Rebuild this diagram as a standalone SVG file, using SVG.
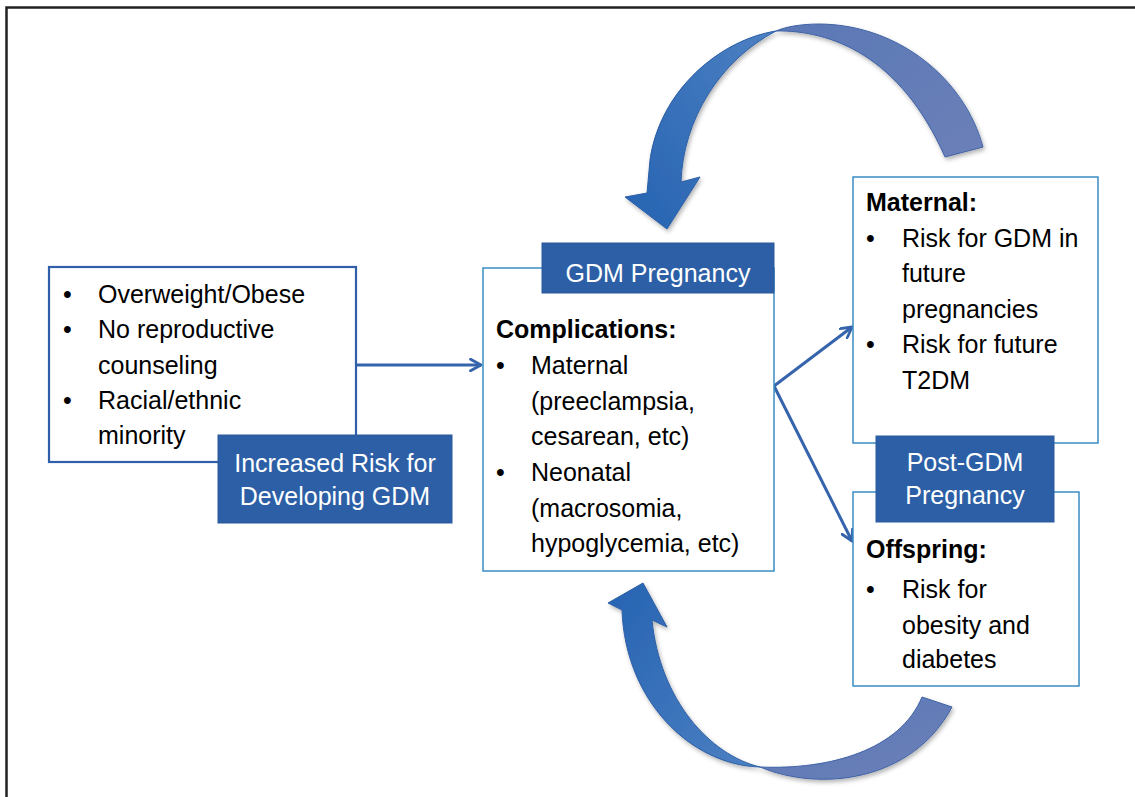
<svg xmlns="http://www.w3.org/2000/svg" width="1135" height="797" viewBox="0 0 1135 797">
<style>
.t{font-family:"Liberation Sans",Arial,sans-serif;font-size:25px;fill:#000}
.b{font-weight:bold}
.w{fill:#fff;text-anchor:middle}
.box1{fill:#fff;stroke:#2E5FA8;stroke-width:2.2}
.box2{fill:#fff;stroke:#3A8CC4;stroke-width:1.5}
.lab{fill:#2C5FA6;stroke:#2A5A9E;stroke-width:1}
.con{fill:none;stroke:#3564AC;stroke-width:3}
</style>
<defs>
<marker id="ah" viewBox="0 0 12 12" refX="10" refY="6" markerWidth="14" markerHeight="14" markerUnits="userSpaceOnUse" orient="auto">
<path d="M1,1 L10,6 L1,11" fill="none" stroke="#3564AC" stroke-width="2.4" stroke-linecap="round" stroke-linejoin="round"/>
</marker>
<linearGradient id="gL1" x1="0" y1="1" x2="1" y2="0">
<stop offset="0" stop-color="#2563B2"/><stop offset="1" stop-color="#4D80C2"/>
</linearGradient>
<linearGradient id="gR1" x1="0" y1="0" x2="1" y2="1">
<stop offset="0" stop-color="#5A78B6"/><stop offset="1" stop-color="#6C80B8"/>
</linearGradient>
<linearGradient id="gL2" x1="0" y1="0" x2="1" y2="1">
<stop offset="0" stop-color="#2563B2"/><stop offset="1" stop-color="#4D80C2"/>
</linearGradient>
<filter id="sh" x="-10%" y="-10%" width="130%" height="130%">
<feDropShadow dx="1.5" dy="2.5" stdDeviation="2" flood-color="#000" flood-opacity="0.3"/>
</filter>
</defs>
<rect width="1135" height="797" fill="#fff"/>
<path d="M6.5,800 V7.5 H1140" fill="none" stroke="#222" stroke-width="2.5"/>

<g id="cycle-arrows" filter="url(#sh)">
<g id="arrow-top">
<path d="M983,147 C965,80 900,25 820,24 C800,24 785,27 776,31 C830,30 900,55 945,157 Z" fill="url(#gR1)" stroke="#3F62A6" stroke-width="1"/>
<path d="M776,31 C720,40 660,90 650,160 L647,193 L625,197 L667,229 L700,177 L681,182 C683,120 720,60 776,31 Z" fill="url(#gL1)" stroke="#2C5EA6" stroke-width="1"/>
</g>
<g id="arrow-bottom">
<path d="M760,767 C820,792 912,782 952,707 L922,697 C900,750 830,770 760,767 Z" fill="url(#gR1)" stroke="#3F62A6" stroke-width="1"/>
<path d="M622,610 L608,603 L643,583 L667,627 L652,620 C660,700 710,755 760,767 C690,765 625,700 622,610 Z" fill="url(#gL2)" stroke="#2C5EA6" stroke-width="1"/>
</g>
</g>

<g id="connectors">
<line class="con" x1="356" y1="365" x2="481" y2="365" marker-end="url(#ah)"/>
<line class="con" x1="774" y1="386" x2="852" y2="327" marker-end="url(#ah)"/>
<line class="con" x1="774" y1="386" x2="852" y2="541" marker-end="url(#ah)"/>
</g>

<g id="risk-factors">
<rect class="box1" x="49" y="267" width="307" height="195"/>
<text class="t" x="63" y="303">•</text><text class="t" x="98" y="303">Overweight/Obese</text>
<text class="t" x="63" y="338">•</text><text class="t" x="98" y="338">No reproductive</text>
<text class="t" x="98" y="374">counseling</text>
<text class="t" x="63" y="409">•</text><text class="t" x="98" y="409">Racial/ethnic</text>
<text class="t" x="98" y="444">minority</text>
</g>
<g id="risk-label">
<rect class="lab" x="218" y="435" width="234" height="88"/>
<text class="t w" x="335" y="472">Increased Risk for</text>
<text class="t w" x="335" y="505">Developing GDM</text>
</g>

<g id="gdm-pregnancy">
<rect class="box2" x="483" y="268" width="291" height="303"/>
<text class="t b" x="496" y="338">Complications:</text>
<text class="t" x="496" y="374">•</text><text class="t" x="531" y="374">Maternal</text>
<text class="t" x="531" y="410">(preeclampsia,</text>
<text class="t" x="531" y="445">cesarean, etc)</text>
<text class="t" x="496" y="481">•</text><text class="t" x="531" y="481">Neonatal</text>
<text class="t" x="531" y="517">(macrosomia,</text>
<text class="t" x="531" y="552">hypoglycemia, etc)</text>
</g>
<g id="gdm-label">
<rect class="lab" x="542" y="243" width="232" height="50"/>
<text class="t w" x="658" y="282">GDM Pregnancy</text>
</g>

<g id="maternal">
<rect class="box2" x="853" y="177" width="245" height="266"/>
<text class="t b" x="866" y="211">Maternal:</text>
<text class="t" x="866" y="247">•</text><text class="t" x="902" y="247">Risk for GDM in</text>
<text class="t" x="902" y="282">future</text>
<text class="t" x="902" y="318">pregnancies</text>
<text class="t" x="866" y="353">•</text><text class="t" x="902" y="353">Risk for future</text>
<text class="t" x="902" y="389">T2DM</text>
</g>
<g id="offspring">
<rect class="box2" x="853" y="492" width="226" height="194"/>
<text class="t b" x="866" y="558">Offspring:</text>
<text class="t" x="866" y="598">•</text><text class="t" x="902" y="598">Risk for</text>
<text class="t" x="902" y="634">obesity and</text>
<text class="t" x="902" y="668">diabetes</text>
</g>
<g id="post-gdm-label">
<rect class="lab" x="876" y="436" width="178" height="86"/>
<text class="t w" x="965" y="471">Post-GDM</text>
<text class="t w" x="965" y="504">Pregnancy</text>
</g>
</svg>
